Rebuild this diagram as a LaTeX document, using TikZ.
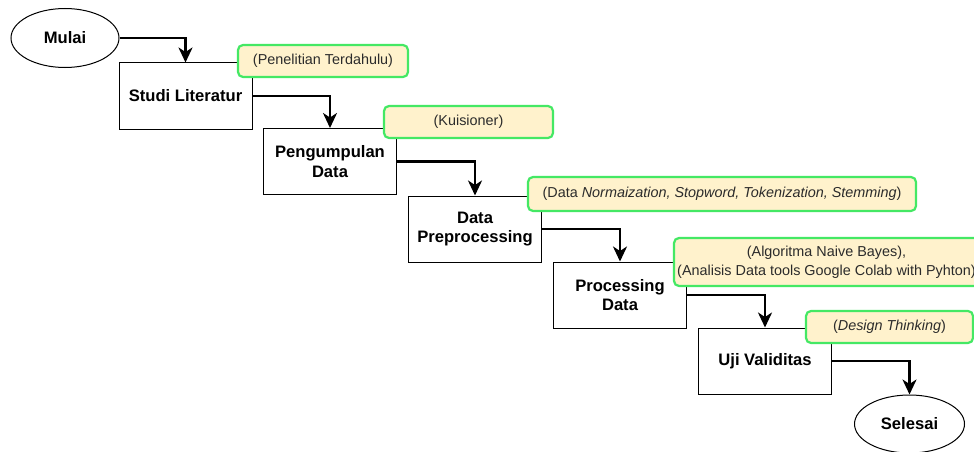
\documentclass[tikz,border=0pt]{standalone}
\usepackage{fontspec}
\setmainfont{Liberation Sans}
\usetikzlibrary{arrows.meta,shapes.geometric}
\definecolor{lblfill}{HTML}{FFF2CC}
\definecolor{lblline}{HTML}{44E864}
\definecolor{lbltext}{HTML}{2B2B2B}
\begin{document}
\begin{tikzpicture}[x=1pt,y=-1pt,
  stepbox/.style={draw=black, line width=1pt, fill=white, minimum width=133pt, minimum height=66pt, inner sep=0pt, align=center, font=\fontsize{16.6}{19.5}\selectfont\bfseries},
  terminal/.style={draw=black, line width=1pt, fill=white, ellipse, minimum width=108pt, minimum height=59pt, inner sep=0pt, font=\fontsize{16.6}{19.5}\selectfont\bfseries},
  note/.style={draw=lblline, line width=2.2pt, fill=lblfill, rounded corners=5pt, minimum height=32pt, inner sep=0pt, align=center, text=lbltext, font=\fontsize{14.4}{19}\selectfont},
  flow/.style={line width=2.2pt, -{Stealth[length=15pt,width=14pt,inset=4.5pt]}}
]
\useasboundingbox (0,0) rectangle (974,452);
\fill[white] (0,0) rectangle (974,452);

\node[terminal] (mulai) at (65,38) {Mulai};
\node[stepbox] (studi) at (185.5,96) {Studi Literatur};
\node[stepbox] (kumpul) at (330,161.5) {Pengumpulan\\Data};
\node[stepbox] (prep) at (475,229) {Data\\Preprocessing};
\node[stepbox] (proc) at (620,295) {Processing\\Data};
\node[stepbox] (uji) at (765,361) {Uji Validitas};
\node[terminal, minimum width=110pt, minimum height=58pt] (selesai) at (909.5,424) {Selesai};

\draw[flow] (mulai.east) -| (studi.north);
\draw[flow] (studi.east) -| (kumpul.north);
\draw[flow] (kumpul.east) -| (prep.north);
\draw[flow] (prep.east) -| (proc.north);
\draw[flow] (proc.east) -| (uji.north);
\draw[flow] (uji.east) -| (selesai.north);

\node[note, minimum width=170pt] (n1) at (323,61) {(Penelitian Terdahulu)};
\node[note, minimum width=169pt] (n2) at (468.5,122) {(Kuisioner)};
\node[note, minimum width=388pt, minimum height=34pt] (n3) at (722,194) {(Data \textit{Normaization, Stopword, Tokenization, Stemming})};
\node[note, minimum width=305pt, minimum height=48pt] (n4) at (826.5,262) {(Algoritma Naive Bayes),\\(Analisis Data tools Google Colab with Pyhton)};
\node[note, minimum width=167pt] (n5) at (889.5,327) {(\textit{Design Thinking})};
\end{tikzpicture}
\end{document}
